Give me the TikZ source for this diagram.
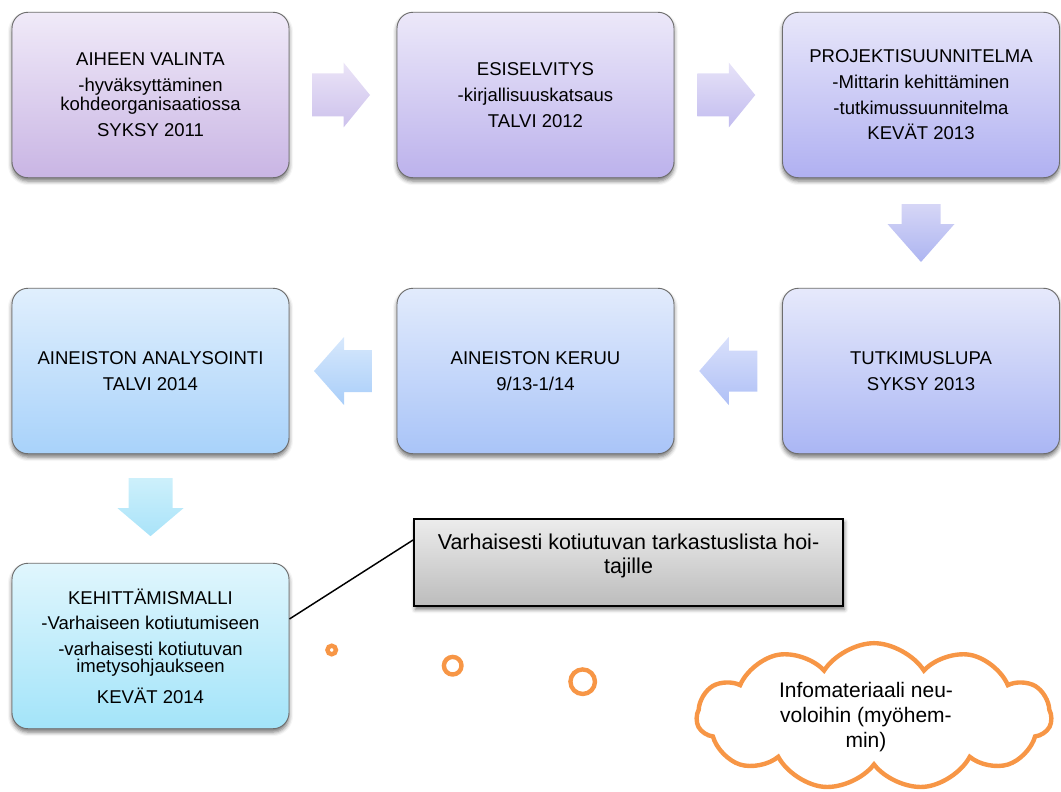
\documentclass[tikz,border=0pt]{standalone}
\usepackage{fontspec}
\setmainfont{Liberation Sans}
\usetikzlibrary{calc,shapes.symbols,shadows.blur}
\definecolor{bordc}{HTML}{6E6E6E}
\definecolor{orng}{HTML}{F79646}
\definecolor{bat}{HTML}{F0EAF8}\definecolor{bab}{HTML}{C9B5E4}
\definecolor{bbt}{HTML}{ECE8F9}\definecolor{bbb}{HTML}{BCB2EC}
\definecolor{bct}{HTML}{E8E7FA}\definecolor{bcb}{HTML}{B0B0F1}
\definecolor{bft}{HTML}{E6E9FB}\definecolor{bfb}{HTML}{AAB6F4}
\definecolor{bet}{HTML}{E2EBFC}\definecolor{beb}{HTML}{A9C4F8}
\definecolor{bdt}{HTML}{E0EFFD}\definecolor{bdb}{HTML}{A8D2FA}
\definecolor{bgt}{HTML}{E0F6FD}\definecolor{bgb}{HTML}{A3E4F9}
\definecolor{aat}{HTML}{EBE4F7}\definecolor{aab}{HTML}{CCC1EC}
\definecolor{abt}{HTML}{E7E3F8}\definecolor{abb}{HTML}{C2BCEF}
\definecolor{act}{HTML}{D6D6F6}\definecolor{acb}{HTML}{ADB5F1}
\definecolor{aet}{HTML}{D9E0FB}\definecolor{aeb}{HTML}{AFC0F6}
\definecolor{adt}{HTML}{D7E8FC}\definecolor{adb}{HTML}{A9CEF9}
\definecolor{agt}{HTML}{CDF0FB}\definecolor{agb}{HTML}{A9E3F9}
\definecolor{grt}{HTML}{ECECEC}\definecolor{grb}{HTML}{BCBCBC}
\tikzset{
  stage/.style={draw=bordc, line width=0.7pt, rounded corners=12pt,
    minimum width=207.75pt, minimum height=124.1pt, inner sep=0pt,
    align=center, font=\fontsize{13.9}{12.75}\selectfont,
    blur shadow={shadow xshift=0pt, shadow yshift=-2.5pt, shadow blur radius=3pt, shadow opacity=55}},
  note/.style={draw=black, line width=1.1pt, minimum width=321.75pt, minimum height=65.25pt,
    top color=grt, bottom color=grb,
    blur shadow={shadow xshift=1pt, shadow yshift=-2.5pt, shadow blur radius=3pt, shadow opacity=55}},
  notetext/.style={align=center, font=\fontsize{16.1}{18}\selectfont, inner sep=0pt},
  cloudtext/.style={align=center, font=\fontsize{15.75}{19}\selectfont, inner sep=0pt},
  orline/.style={draw=orng, line width=3.3pt},
  link/.style={draw=black, line width=1.1pt}
}
\begin{document}
\begin{tikzpicture}[x=0.75pt,y=-0.75pt]
\useasboundingbox (0,0) rectangle (1061,792);
% stages
\node[stage, top color=bat, bottom color=bab] (b1) at (150.5,95)
  {AIHEEN VALINTA\\[6.5pt]-hyväksyttäminen\\kohdeorganisaatiossa\\[7pt]SYKSY 2011};
\node[stage, top color=bbt, bottom color=bbb] (b2) at (535.5,95)
  {ESISELVITYS\\[6.5pt]-kirjallisuuskatsaus\\[6.5pt]TALVI 2012};
\node[stage, top color=bct, bottom color=bcb] (b3) at (921,95)
  {PROJEKTISUUNNITELMA\\[6.5pt]-Mittarin kehittäminen\\[6.5pt]-tutkimussuunnitelma\\[6.5pt]KEVÄT 2013};
\node[stage, top color=bft, bottom color=bfb] (b6) at (921,371)
  {TUTKIMUSLUPA\\[6.5pt]SYKSY 2013};
\node[stage, top color=bet, bottom color=beb] (b5) at (535.5,371)
  {AINEISTON KERUU\\[6.5pt]9/13-1/14};
\node[stage, top color=bdt, bottom color=bdb] (b4) at (150.5,371)
  {AINEISTON ANALYSOINTI\\[6.5pt]TALVI 2014};
\node[stage, top color=bgt, bottom color=bgb] (b7) at (150.5,646)
  {KEHITTÄMISMALLI\\[6.5pt]-Varhaiseen kotiutumiseen\\[6.5pt]-varhaisesti kotiutuvan\\imetysohjaukseen\\[7.5pt]KEVÄT 2014};
% block arrows
\coordinate (m12) at ($(b1.east)!0.5!(b2.west)$);
\coordinate (m23) at ($(b2.east)!0.5!(b3.west)$);
\coordinate (m36) at ($(b3.south)!0.5!(b6.north)$);
\coordinate (m65) at ($(b6.west)!0.5!(b5.east)$);
\coordinate (m54) at ($(b5.west)!0.5!(b4.east)$);
\coordinate (m47) at ($(b4.south)!0.5!(b7.north)$);
\path[top color=aat, bottom color=aab, shift={(m12)}, xshift=-1.5pt]
  (-29,-21.5) -- (2.5,-21.5) -- (2.5,-32.5) -- (29,0) -- (2.5,32.5) -- (2.5,21.5) -- (-29,21.5) -- cycle;
\path[top color=abt, bottom color=abb, shift={(m23)}, xshift=-1.5pt]
  (-29,-21.5) -- (2.5,-21.5) -- (2.5,-32.5) -- (29,0) -- (2.5,32.5) -- (2.5,21.5) -- (-29,21.5) -- cycle;
\path[top color=act, bottom color=acb, shift={(m36)}]
  (-19.5,-29) -- (19.5,-29) -- (19.5,-9) -- (33.5,-9) -- (0,29) -- (-33.5,-9) -- (-19.5,-9) -- cycle;
\path[top color=aet, bottom color=aeb, shift={(m65)}]
  (29,-20.5) -- (0.5,-20.5) -- (0.5,-34) -- (-29,0) -- (0.5,34) -- (0.5,20.5) -- (29,20.5) -- cycle;
\path[top color=adt, bottom color=adb, shift={(m54)}]
  (29,-21) -- (1,-21) -- (1,-34) -- (-29,0) -- (1,34) -- (1,21) -- (29,21) -- cycle;
\path[top color=agt, bottom color=agb, shift={(m47)}, yshift=1pt]
  (-22,-29) -- (22,-29) -- (22,1) -- (33,1) -- (0,29) -- (-33,1) -- (-22,1) -- cycle;
% note box and connector
\node[note] (g) at (628.5,562.5) {};
\node[notetext] (gt) at (628.5,556) {Varhaisesti kotiutuvan tarkastuslista hoi-\\tajille};
\draw[link] (b7.11.5) -- (g.174);
% thought bubbles
\draw[orline] (331.7,650) circle[radius=3.2pt];
\draw[orline] (452.7,665.7) circle[radius=6.6pt];
\draw[orline] (582.7,681.7) circle[radius=9.2pt];
\node[cloud, cloud puffs=11, cloud puff arc=115, cloud ignores aspect, orline, fill=white,
  minimum width=266pt, minimum height=110pt, inner sep=0pt] (c) at (874,716.5) {};
\node[cloudtext] (ct) at (866,717) {Infomateriaali neu-\\voloihin (myöhem-\\min)};
\end{tikzpicture}
\end{document}
